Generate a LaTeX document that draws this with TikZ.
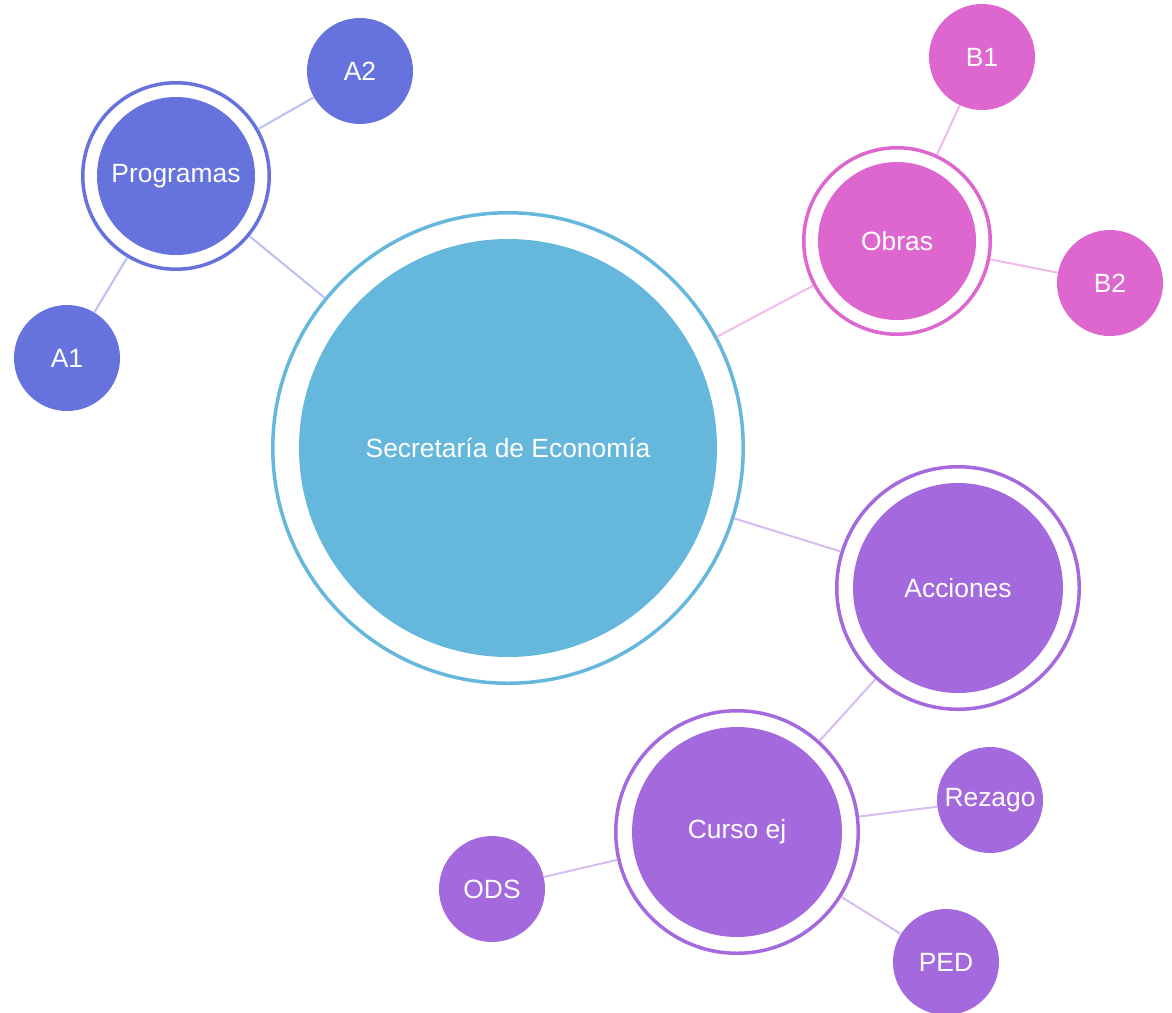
\documentclass[tikz,border=0pt]{standalone}
\usepackage{fontspec}
\setmainfont{Liberation Sans}
\usepackage{tikz}
\usetikzlibrary{positioning}
\definecolor{econblue}{HTML}{66B7DC}
\definecolor{progblue}{HTML}{6673DD}
\definecolor{obrapink}{HTML}{DD66CF}
\definecolor{accpurple}{HTML}{A46ADD}
\tikzstyle{bubble}   = [circle, inner sep=0pt, text=white, font=\fontsize{13.2}{15}\selectfont]
\tikzstyle{ringline} = [circle, inner sep=0pt, line width=1.75pt]
\tikzstyle{link}     = [line width=1pt]

\begin{document}
\begin{tikzpicture}[x=0.5pt, y=-0.5pt]
            \useasboundingbox (0,0) rectangle (1172,1012);
            %Create central node
            \node (econ_ring) [ringline, draw=econblue, minimum size=235.25pt] at (508,448) {};
            \node (econ)      [bubble, fill=econblue, minimum size=209pt] at (econ_ring) {Secretaría de Economía};
            %Create nodes for Programas
            \node (prog_ring) [ringline, draw=progblue, minimum size=93.25pt] at (176,176) {};
            \node (prog)      [bubble, fill=progblue, minimum size=79pt] at (prog_ring) {Programas};
            \node (a2)        [bubble, fill=progblue, minimum size=53pt] at (360,71)  {A2};
            \node (a1)        [bubble, fill=progblue, minimum size=53pt] at (67,358)  {A1};
            %Create nodes for Obras
            \node (obras_ring) [ringline, draw=obrapink, minimum size=93.25pt] at (897,241) {};
            \node (obras)      [bubble, fill=obrapink, minimum size=79pt] at (obras_ring) {Obras};
            \node (b1)         [bubble, fill=obrapink, minimum size=53pt] at (982,57)  {B1};
            \node (b2)         [bubble, fill=obrapink, minimum size=53pt] at (1110,283) {B2};
            %Create nodes for Acciones
            \node (acc_ring)   [ringline, draw=accpurple, minimum size=121.25pt] at (958,588) {};
            \node (acc)        [bubble, fill=accpurple, minimum size=105pt] at (acc_ring) {Acciones};
            \node (curso_ring) [ringline, draw=accpurple, minimum size=121.25pt] at (737,832) {};
            \node (curso)      [bubble, fill=accpurple, minimum size=105pt] at (curso_ring) {Curso ej};
            \node (rezago)     [bubble, fill=accpurple, minimum size=53pt] at (990,800) {Rezago};
            \node (ods)        [bubble, fill=accpurple, minimum size=53pt] at (492,889) {ODS};
            \node (ped)        [bubble, fill=accpurple, minimum size=53pt] at (946,962) {PED};
            %Connect nodes
            \draw [link, progblue!45]  (econ_ring)  -- (prog_ring);
            \draw [link, progblue!45]  (prog_ring)  -- (a2);
            \draw [link, progblue!45]  (prog_ring)  -- (a1);
            \draw [link, obrapink!45]  (econ_ring)  -- (obras_ring);
            \draw [link, obrapink!45]  (obras_ring) -- (b1);
            \draw [link, obrapink!45]  (obras_ring) -- (b2);
            \draw [link, accpurple!45] (econ_ring)  -- (acc_ring);
            \draw [link, accpurple!45] (acc_ring)   -- (curso_ring);
            \draw [link, accpurple!45] (curso_ring) -- (rezago);
            \draw [link, accpurple!45] (curso_ring) -- (ods);
            \draw [link, accpurple!45] (curso_ring) -- (ped);
\end{tikzpicture}
\end{document}
